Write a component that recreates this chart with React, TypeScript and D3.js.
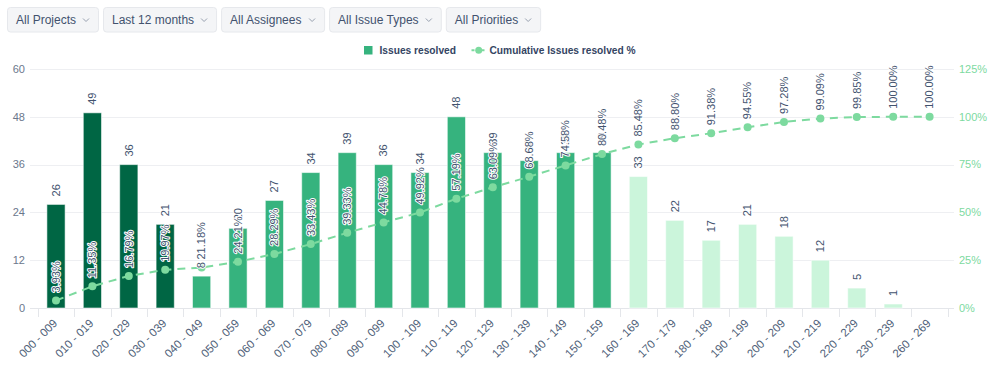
import React, { useMemo } from 'react';
import * as d3 from 'd3';

// ---------- data ----------
const categories = [
  '000 - 009', '010 - 019', '020 - 029', '030 - 039', '040 - 049',
  '050 - 059', '060 - 069', '070 - 079', '080 - 089', '090 - 099',
  '100 - 109', '110 - 119', '120 - 129', '130 - 139', '140 - 149',
  '150 - 159', '160 - 169', '170 - 179', '180 - 189', '190 - 199',
  '200 - 209', '210 - 219', '220 - 229', '230 - 239', '260 - 269',
];
const issuesResolved = [26, 49, 36, 21, 8, 20, 27, 34, 39, 36, 34, 48, 39, 37, 39, 39, 33, 22, 17, 21, 18, 12, 5, 1, 0];
const cumulativePercent = [
  3.93, 11.35, 16.79, 19.97, 21.18, 24.21, 28.29, 33.43, 39.33, 44.78,
  49.92, 57.19, 63.09, 68.68, 74.58, 80.48, 85.48, 88.8, 91.38, 94.55,
  97.28, 99.09, 99.85, 100, 100,
];
// which colour group each bar belongs to
const barGroup = [
  'dark', 'dark', 'dark', 'dark',
  'mid', 'mid', 'mid', 'mid', 'mid', 'mid', 'mid', 'mid', 'mid', 'mid', 'mid', 'mid',
  'pale', 'pale', 'pale', 'pale', 'pale', 'pale', 'pale', 'pale', 'pale',
];
const countTicks = [0, 12, 24, 36, 48, 60];
const percentTicks = [0, 25, 50, 75, 100, 125];
const filterLabels = ['All Projects', 'Last 12 months', 'All Assignees', 'All Issue Types', 'All Priorities'];
const legendLabels = ['Issues resolved', 'Cumulative Issues resolved %'];

// ---------- style ----------
const W = 999;
const H = 369;
const FONT = '"Liberation Sans", Arial, Helvetica, sans-serif';
const COLORS: Record<string, string> = { dark: '#006644', mid: '#36B37E', pale: '#CBF5DB' };
const LINE_COLOR = '#7DDA9F';
const GRID = '#EEEFF2';
const LABEL = '#42526E';

function measure(text: string, font: string): number {
  const c = document.createElement('canvas').getContext('2d');
  if (!c) return text.length * 6.5;
  c.font = font;
  return c.measureText(text).width;
}

export default function App() {
  const plotTop = 69;
  const plotBottom = 308;
  const gridLeft = 30;
  const gridRight = 954;

  const xb = d3.scaleBand<string>().domain(categories).range([37.8, 947.8]).padding(0);
  const step = xb.step();
  const barW = step * 0.5;
  const cx = (c: string) => (xb(c) as number) + step / 2;
  const y = d3.scaleLinear().domain([0, 60]).range([plotBottom, plotTop]);
  const yp = d3.scaleLinear().domain([0, 125]).range([plotBottom, plotTop]);

  const linePath = d3
    .line<number>()
    .x((_, i) => cx(categories[i]))
    .y((d) => yp(d))(cumulativePercent) as string;

  const buttons = useMemo(() => {
    let xPos = 7;
    return filterLabels.map((t) => {
      const tw = measure(t, `12px ${FONT}`);
      const w = tw + 32;
      const b = { x: xPos, w, tw, t };
      xPos += w + 4;
      return b;
    });
  }, []);

  const halo = { stroke: '#fff', strokeWidth: 2, paintOrder: 'stroke' as const, strokeLinejoin: 'round' as const };

  return (
    <div style={{ position: 'absolute', left: 0, top: 0, width: W, height: H, background: '#fff' }}>
      <svg width={W} height={H} style={{ display: 'block', fontFamily: FONT }}>
        {/* filter buttons */}
        {buttons.map((b) => (
          <g key={b.t}>
            <rect x={b.x + 0.5} y={7.5} width={b.w - 1} height={24.5} rx={3} fill="#F4F5F7" stroke="#E6E8EC" />
            <text x={b.x + 9} y={23.5} fontSize={12} fill={LABEL}>{b.t}</text>
            <path
              d={`M${b.x + 9 + b.tw + 7},${18.5} l3,3 l3,-3`}
              fill="none"
              stroke="#97A0AF"
              strokeWidth={1}
            />
          </g>
        ))}

        {/* legend */}
        <rect x={364} y={46} width={8.5} height={8.5} fill={COLORS.mid} />
        <text x={379.5} y={53.5} fontSize={10.2} fontWeight={700} fill="#344563">{legendLabels[0]}</text>
        <line x1={471.5} y1={50.2} x2={486} y2={50.2} stroke={LINE_COLOR} strokeWidth={2} strokeDasharray="3,2" />
        <circle cx={478.7} cy={50.2} r={3.5} fill={LINE_COLOR} />
        <text x={489.5} y={53.5} fontSize={10.2} fontWeight={700} fill="#344563">{legendLabels[1]}</text>

        {/* grid */}
        {countTicks.map((t) => (
          <line key={t} x1={gridLeft} x2={gridRight} y1={Math.round(y(t)) + 0.5} y2={Math.round(y(t)) + 0.5} stroke={GRID} strokeWidth={1} />
        ))}
        {/* x axis line + ticks */}
        <line x1={gridLeft} x2={gridRight} y1={plotBottom + 0.5} y2={plotBottom + 0.5} stroke="#E4E6EA" />
        {[...categories.map((c) => xb(c) as number), 947.8].map((tx, i) => (
          <line key={i} x1={Math.round(tx) + 0.5} x2={Math.round(tx) + 0.5} y1={plotBottom} y2={plotBottom + 9} stroke="#E4E6EA" />
        ))}

        {/* left axis */}
        {countTicks.map((t) => (
          <text key={t} x={25} y={y(t)} dy="0.35em" textAnchor="end" fontSize={11} fill="#6B778C">{t}</text>
        ))}
        {/* right axis */}
        {percentTicks.map((t) => (
          <text key={t} x={959} y={yp(t)} dy="0.35em" textAnchor="start" fontSize={11} fill={LINE_COLOR}>{`${t}%`}</text>
        ))}

        {/* bars */}
        {categories.map((c, i) =>
          issuesResolved[i] > 0 ? (
            <rect
              key={c}
              x={cx(c) - barW / 2}
              y={y(issuesResolved[i])}
              width={barW}
              height={plotBottom - y(issuesResolved[i])}
              fill={COLORS[barGroup[i]]}
              stroke="#ffffff"
              strokeOpacity={0.55}
              strokeWidth={1}
            />
          ) : null
        )}

        {/* cumulative line */}
        <path d={linePath} fill="none" stroke={LINE_COLOR} strokeWidth={2} strokeDasharray="8,6" />
        {categories.map((c, i) => (
          <circle key={c} cx={cx(c)} cy={yp(cumulativePercent[i])} r={4} fill={LINE_COLOR} />
        ))}

        {/* bar value labels */}
        {categories.map((c, i) =>
          issuesResolved[i] > 0 ? (
            <text
              key={c}
              transform={`translate(${cx(c)},${y(issuesResolved[i]) - 8}) rotate(-90)`}
              dy="0.35em"
              textAnchor="start"
              fontSize={11}
              fill={LABEL}
              {...halo}
            >
              {issuesResolved[i]}
            </text>
          ) : null
        )}

        {/* percent labels */}
        {categories.map((c, i) => (
          <text
            key={c}
            transform={`translate(${cx(c)},${yp(cumulativePercent[i]) - 8}) rotate(-90)`}
            dy="0.35em"
            textAnchor="start"
            fontSize={11}
            fill={LABEL}
            {...halo}
          >
            {`${cumulativePercent[i].toFixed(2)}%`}
          </text>
        ))}

        {/* x labels */}
        {categories.map((c) => (
          <text
            key={c}
            transform={`translate(${cx(c) + 2},${324}) rotate(-45)`}
            textAnchor="end"
            fontSize={11.5}
            fill="#505F79"
          >
            {c}
          </text>
        ))}
      </svg>
    </div>
  );
}
